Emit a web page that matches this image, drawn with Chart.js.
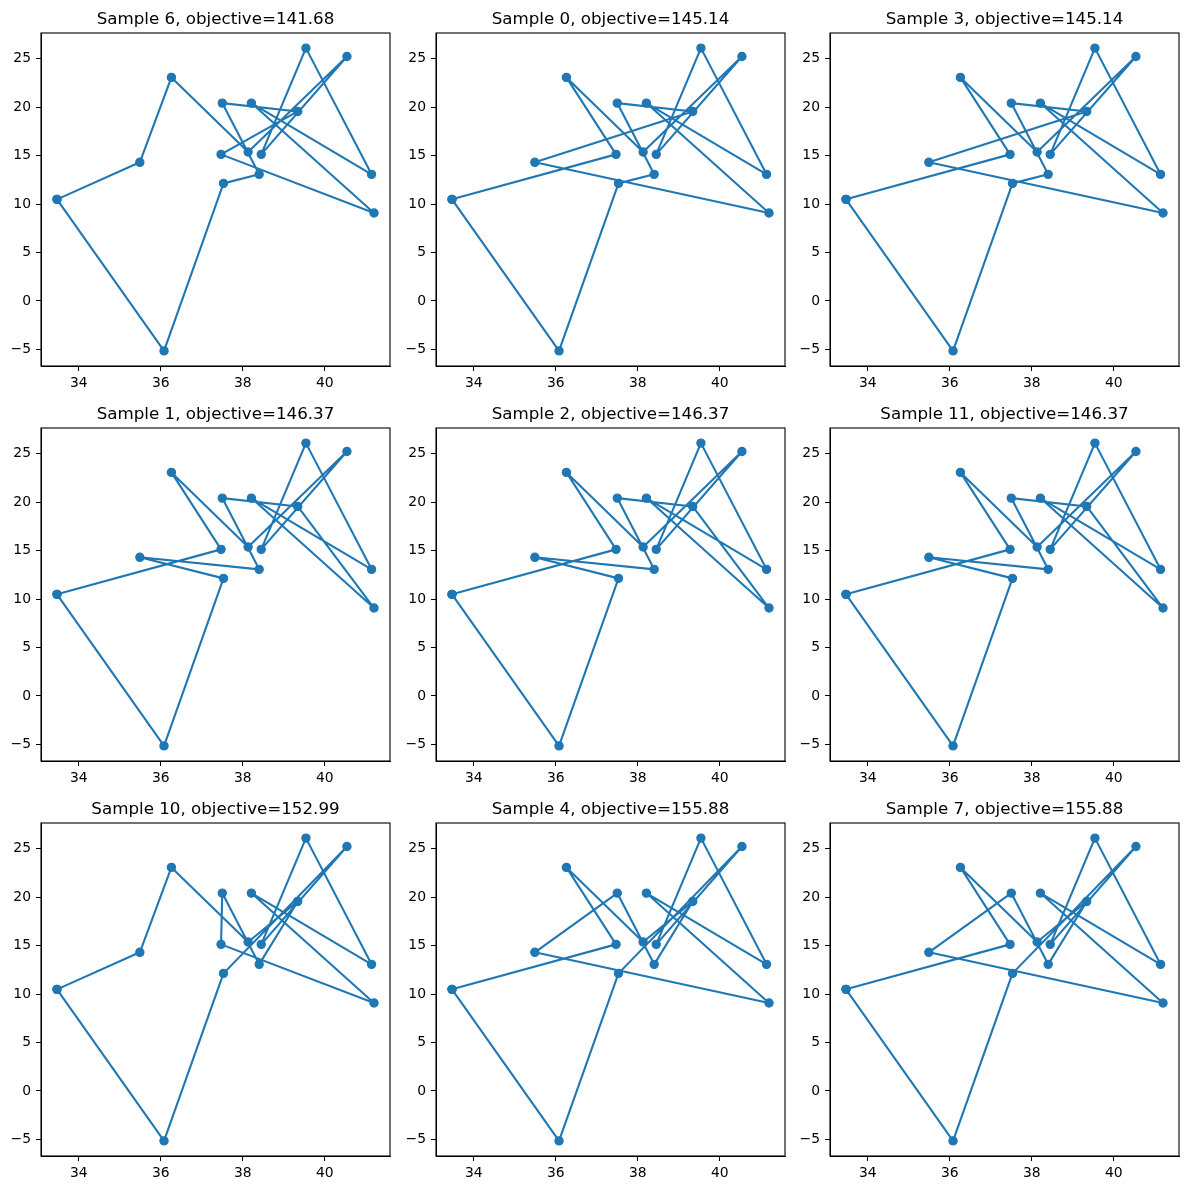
<!DOCTYPE html>
<html>
<head>
<meta charset="utf-8">
<script src="https://cdn.jsdelivr.net/npm/chart.js@4/dist/chart.umd.min.js"></script>
<style>
  body { margin: 0; background: #fff; }
  #wrap { position: relative; width: 1189px; height: 1190px; }
  canvas { position: absolute; }
</style>
</head>
<body>
<div id="wrap"></div>
<script>
// city coordinates (same 16 cities in every panel)
const cityX = [33.47, 35.49, 36.08, 36.26, 37.50, 37.47, 37.53, 38.13, 38.21, 38.40, 38.45, 39.34, 39.54, 40.54, 41.14, 41.20];
const cityY = [10.48, 14.30, -5.15, 23.06, 20.41, 15.12, 12.13, 15.36, 20.41, 13.06, 15.12, 19.55, 26.08, 25.22, 13.06, 9.07];

// visiting orders
const tour6 = [0, 1, 3, 7, 13, 10, 12, 14, 8, 15, 5, 11, 4, 9, 6, 2];
const tour0 = [0, 5, 3, 7, 13, 10, 12, 14, 8, 15, 1, 11, 4, 9, 6, 2];
const tour1 = [0, 5, 3, 7, 13, 10, 12, 14, 8, 15, 11, 4, 9, 1, 6, 2];
const tour10 = [0, 1, 3, 7, 11, 9, 4, 5, 15, 8, 14, 12, 10, 13, 6, 2];
const tour4 = [0, 5, 3, 7, 11, 9, 4, 1, 15, 8, 14, 12, 10, 13, 6, 2];

const sampleIds = [6, 0, 3, 1, 2, 11, 10, 4, 7];
const objectives = [141.68, 145.14, 145.14, 146.37, 146.37, 146.37, 152.99, 155.88, 155.88];
const tours = [tour6, tour0, tour0, tour1, tour1, tour1, tour10, tour4, tour4];

const xTicks = [34, 36, 38, 40];
const yTicks = [-5, 0, 5, 10, 15, 20, 25];

// layout
const areaLeft = [41, 436, 830];
const areaTop = [33, 428, 823];
const areaW = 349, areaH = 333;
const yAxisW = 40, xAxisH = 30, titleH = 33, padRight = 6;
const blue = '#1f77b4';
const font = 'DejaVu Sans';

const xMin = 33.08, xMax = 41.59, yMin = -6.71, yMax = 27.64;

const framePlugin = {
  id: 'frame',
  afterDraw(chart) {
    const { ctx, chartArea: a } = chart;
    ctx.save();
    ctx.strokeStyle = '#000';
    ctx.lineWidth = 1.1;
    ctx.strokeRect(a.left, a.top, a.right - a.left, a.bottom - a.top);
    ctx.restore();
  }
};

const minus = v => String(v).replace('-', '\u2212');

const wrap = document.getElementById('wrap');

for (let i = 0; i < 9; i++) {
  const col = i % 3, row = Math.floor(i / 3);
  const cv = document.createElement('canvas');
  const w = yAxisW + areaW + padRight, h = titleH + areaH + xAxisH;
  cv.width = w; cv.height = h;
  cv.style.width = w + 'px'; cv.style.height = h + 'px';
  cv.style.left = (areaLeft[col] - yAxisW) + 'px';
  cv.style.top = (areaTop[row] - titleH) + 'px';
  wrap.appendChild(cv);

  const order = tours[i].concat([tours[i][0]]);
  const pts = order.map(k => ({ x: cityX[k], y: cityY[k] }));

  new Chart(cv, {
    type: 'scatter',
    data: {
      datasets: [{
        data: pts,
        showLine: true,
        borderColor: blue,
        borderWidth: 2.1,
        borderJoinStyle: 'round',
        borderCapStyle: 'round',
        backgroundColor: blue,
        pointBackgroundColor: blue,
        pointBorderColor: blue,
        pointBorderWidth: 1.2,
        pointRadius: 4.1,
        pointHoverRadius: 4.1,
        tension: 0
      }]
    },
    options: {
      responsive: false,
      animation: false,
      devicePixelRatio: 1,
      layout: { padding: { top: 0, right: padRight, left: 0, bottom: 0 } },
      plugins: {
        legend: { display: false },
        tooltip: { enabled: false },
        title: {
          display: true,
          fullSize: false,
          text: 'Sample ' + sampleIds[i] + ', objective=' + objectives[i].toFixed(2),
          color: '#000',
          font: { family: font, size: 16.7, weight: 'normal', lineHeight: 1.2 },
          padding: { top: 9.5, bottom: 3.46 }
        }
      },
      scales: {
        x: {
          type: 'linear',
          min: xMin, max: xMax,
          afterBuildTicks: ax => { ax.ticks = xTicks.map(v => ({ value: v })); },
          afterFit: sc => { sc.height = xAxisH; },
          grid: { drawOnChartArea: false, drawTicks: true, tickLength: 5, color: '#000' },
          border: { display: true, color: '#000' },
          ticks: { color: '#000', padding: 4, font: { family: font, size: 13.9 }, maxRotation: 0, callback: minus }
        },
        y: {
          type: 'linear',
          min: yMin, max: yMax,
          afterBuildTicks: ax => { ax.ticks = yTicks.map(v => ({ value: v })); },
          afterFit: sc => { sc.width = yAxisW; },
          grid: { drawOnChartArea: false, drawTicks: true, tickLength: 5, color: '#000' },
          border: { display: true, color: '#000' },
          ticks: { color: '#000', padding: 5, font: { family: font, size: 13.9 }, callback: minus }
        }
      }
    },
    plugins: [framePlugin]
  });
}
</script>
</body>
</html>
